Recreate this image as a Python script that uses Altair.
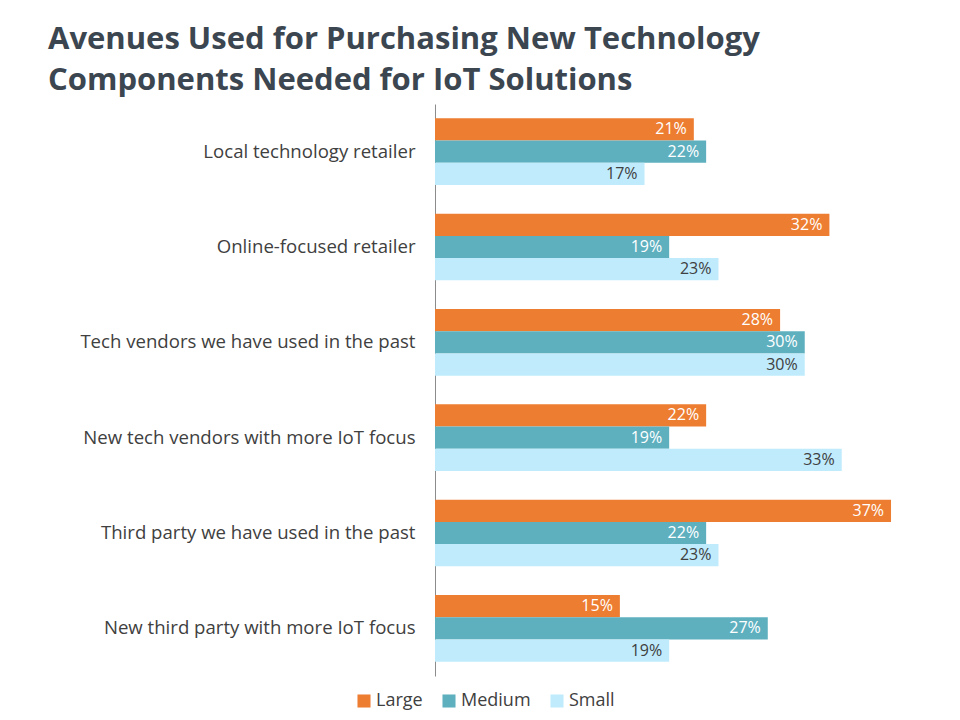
import altair as alt
import pandas as pd

categories = [
    "Local technology retailer",
    "Online-focused retailer",
    "Tech vendors we have used in the past",
    "New tech vendors with more IoT focus",
    "Third party we have used in the past",
    "New third party with more IoT focus",
]
series = ["Large", "Medium", "Small"]
large = [21, 32, 28, 22, 37, 15]
medium = [22, 19, 30, 19, 22, 27]
small = [17, 23, 30, 33, 23, 19]
colors = ["#ED7D31", "#5EB0BF", "#BFEBFC"]

rows = []
for i, c in enumerate(categories):
    for s, vals in zip(series, [large, medium, small]):
        rows.append({"category": c, "series": s, "value": vals[i],
                     "label": f"{vals[i]}%"})
df = pd.DataFrame(rows)

FONT = "Open Sans"

y_enc = alt.Y("category:N", sort=categories,
              scale=alt.Scale(paddingInner=0.30, paddingOuter=0.15),
              axis=alt.Axis(title=None, ticks=False, labelPadding=20,
                            labelFontSize=18.6, labelColor="#404040",
                            labelFont=FONT, domainColor="#8C8C8C",
                            labelLimit=400))
yoff = alt.YOffset("series:N", sort=series, scale=alt.Scale(paddingInner=0, paddingOuter=0))
x_enc = alt.X("value:Q", scale=alt.Scale(domain=[0, 40]), axis=None)

bars = alt.Chart(df).mark_bar().encode(
    y=y_enc, yOffset=yoff, x=x_enc,
    color=alt.Color("series:N", sort=series,
                    scale=alt.Scale(domain=series, range=colors),
                    legend=alt.Legend(title=None, orient="none", direction="horizontal",
                                      legendX=-80, legendY=588, symbolType="square",
                                      symbolSize=170, symbolStrokeWidth=0,
                                      labelFontSize=18, labelColor="#404040",
                                      labelFont=FONT, columnPadding=17,
                                      labelOffset=3)),
)

text = alt.Chart(df).mark_text(align="right", baseline="middle", dx=-7,
                               fontSize=16, font=FONT).encode(
    y=alt.Y("category:N", sort=categories), yOffset=alt.YOffset("series:N", sort=series),
    x=alt.X("value:Q"),
    text="label:N",
    color=alt.Color("series:N", sort=series,
                    scale=alt.Scale(domain=series, range=["#FFFFFF", "#FFFFFF", "#404040"]),
                    legend=None),
)

chart = alt.layer(bars, text).resolve_scale(color="independent").properties(
    width=493, height=572,
    autosize=alt.AutoSizeParams(type="none"),
    padding={"left": 427, "top": 96, "right": 24, "bottom": 36},
    title=alt.TitleParams(
        ["Avenues Used for Purchasing New Technology",
         "Components Needed for IoT Solutions"],
        anchor="start", frame="group", dx=-387, fontSize=31, font=FONT,
        fontWeight="bold", color="#3B4650", lineHeight=41, offset=7),
).configure_view(stroke=None).configure_axis(grid=False)

chart.save("out.html", embed_options={"renderer": "svg", "actions": False})
